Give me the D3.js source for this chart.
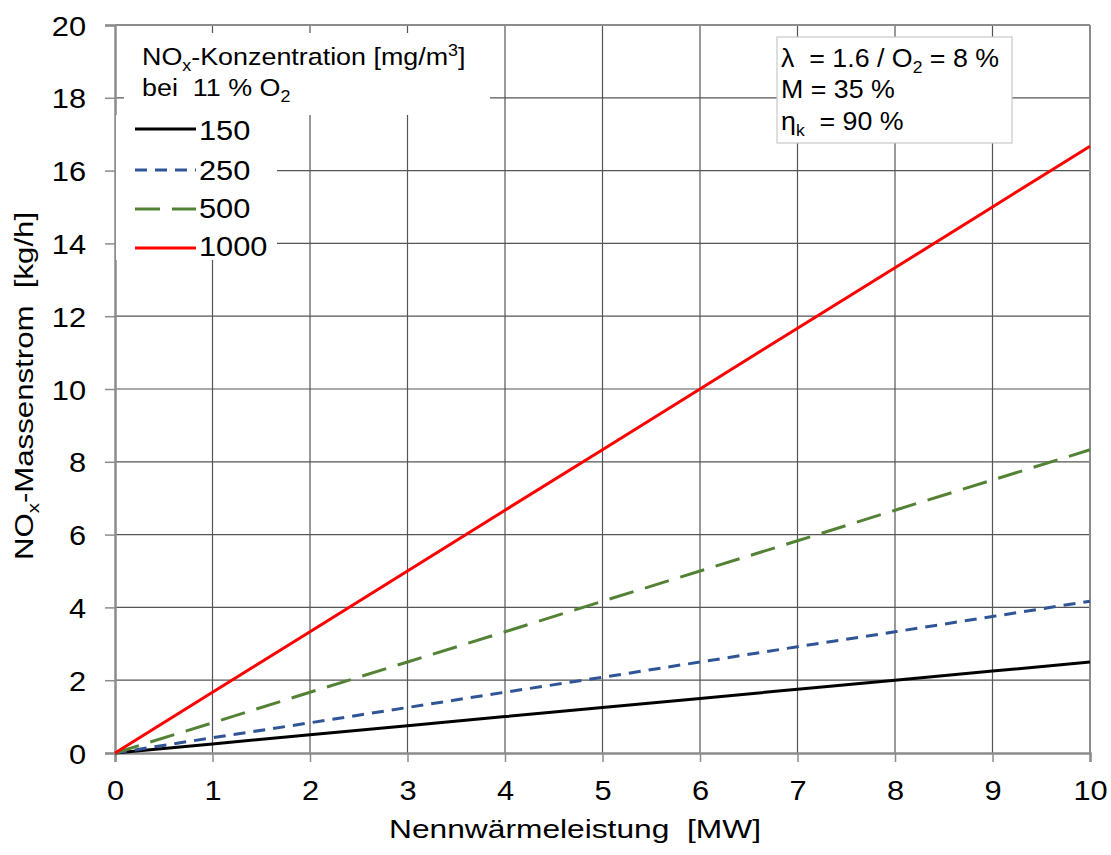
<!DOCTYPE html>
<html><head><meta charset="utf-8">
<script src="https://cdn.jsdelivr.net/npm/d3@7/dist/d3.min.js"></script>
<style>body{margin:0;background:#fff;} svg{display:block;font-family:Arial,"Liberation Sans",sans-serif;}</style>
</head><body>
<svg id="c" width="1111" height="855"></svg>
<script>
const xValues = [0,1,2,3,4,5,6,7,8,9,10];
const s150  = [0,0.25,0.5,0.75,1.0,1.25,1.5,1.75,2.0,2.25,2.5];
const s250  = [0,0.42,0.83,1.25,1.67,2.08,2.5,2.92,3.33,3.75,4.17];
const s500  = [0,0.83,1.67,2.5,3.33,4.17,5.0,5.83,6.67,7.5,8.33];
const s1000 = [0,1.67,3.33,5.0,6.67,8.33,10.0,11.67,13.33,15.0,16.67];
const seriesNames = ["150","250","500","1000"];
const xTicks = [0,1,2,3,4,5,6,7,8,9,10];
const yTicks = [0,2,4,6,8,10,12,14,16,18,20];

const series = [
  {name:seriesNames[0], vals:s150,  color:"#000000", dash:null},
  {name:seriesNames[1], vals:s250,  color:"#2f5597", dash:"12,8"},
  {name:seriesNames[2], vals:s500,  color:"#548235", dash:"25,12"},
  {name:seriesNames[3], vals:s1000, color:"#ff0000", dash:null}
];

const svg = d3.select("#c");
const L=115, R=1090, T=25, B=753;
const x = d3.scaleLinear().domain([0,10]).range([L,R]);
const y = d3.scaleLinear().domain([0,20]).range([B,T]);

function stext(px, py, size, sx, anchor){
  return svg.append("text")
    .attr("transform", `translate(${px},${py}) scale(${sx},1)`)
    .attr("font-size", size).attr("text-anchor", anchor||"start")
    .attr("fill","#000").attr("xml:space","preserve");
}

// grid
const g = svg.append("g");
g.selectAll(".vg").data(xTicks.slice(1,-1)).enter().append("line")
  .attr("x1",d=>x(d)).attr("x2",d=>x(d)).attr("y1",T).attr("y2",B)
  .attr("stroke","#555").attr("stroke-width",1.2);
g.selectAll(".hg").data(yTicks.slice(1,-1)).enter().append("line")
  .attr("y1",d=>y(d)).attr("y2",d=>y(d)).attr("x1",L).attr("x2",R)
  .attr("stroke","#555").attr("stroke-width",1.2);
svg.append("line").attr("x1",L).attr("x2",R).attr("y1",T).attr("y2",T).attr("stroke","#8c8c8c").attr("stroke-width",2);
svg.append("line").attr("x1",R).attr("x2",R).attr("y1",T).attr("y2",B).attr("stroke","#8c8c8c").attr("stroke-width",2);

// axes
const tsx = 1.1;
const xAxis = svg.append("g").attr("transform",`translate(0,${B})`)
  .call(d3.axisBottom(x).tickValues(xTicks).tickSize(9).tickPadding(18).tickFormat(d3.format("d")));
const yAxis = svg.append("g").attr("transform",`translate(${L},0)`)
  .call(d3.axisLeft(y).tickValues(yTicks).tickSize(10).tickPadding(19).tickFormat(d3.format("d")));
[xAxis,yAxis].forEach(a=>{
  a.select(".domain").attr("stroke","#8c8c8c").attr("stroke-width",2.5);
  a.selectAll(".tick line").attr("stroke","#8c8c8c").attr("stroke-width",1.5);
  a.selectAll(".tick text").attr("font-size",28).attr("fill","#000")
    .attr("font-family","Arial,'Liberation Sans',sans-serif")
    .attr("transform",`scale(${tsx},1)`);
});
xAxis.selectAll(".tick text").attr("dy","0.72em");
yAxis.selectAll(".tick text").attr("x",-29/tsx).attr("dy","0.36em");

// legend boxes
svg.append("rect").attr("x",124).attr("y",33).attr("width",366).attr("height",82).attr("fill","#fff");
svg.append("rect").attr("x",116).attr("y",115).attr("width",161).attr("height",145).attr("fill","#fff");
// annotation box
svg.append("rect").attr("x",777).attr("y",37).attr("width",235).attr("height",106)
  .attr("fill","#fff").attr("stroke","#c8c8c8").attr("stroke-width",1.2);

// lines
const line = d3.line().x((d,i)=>x(xValues[i])).y(d=>y(d));
series.forEach(s=>{
  svg.append("path").datum(s.vals).attr("d",line).attr("fill","none")
    .attr("stroke",s.color).attr("stroke-width",3)
    .attr("stroke-dasharray",s.dash);
});

// legend title
const lt = stext(142,65,24,1.12);
lt.append("tspan").text("NO");
lt.append("tspan").text("x").attr("font-size",16).attr("dy",6);
lt.append("tspan").text("-Konzentration [mg/m").attr("dy",-6);
lt.append("tspan").text("3").attr("font-size",16).attr("dy",-9);
lt.append("tspan").text("]").attr("dy",9);
const lt2 = stext(142,96,24,1.12);
lt2.append("tspan").text("bei  11 % O");
lt2.append("tspan").text("2").attr("font-size",16).attr("dy",6);

const legY = [129,170,209,248];
const legBase = [140,180,218,256];
series.forEach((s,i)=>{
  svg.append("line").attr("x1",135).attr("x2",196).attr("y1",legY[i]).attr("y2",legY[i])
    .attr("stroke",s.color).attr("stroke-width",3).attr("stroke-dasharray",s.dash);
  stext(199,legBase[i],28,1.1).text(s.name);
});

// annotation text
const a1 = stext(781,67,26,1.03);
a1.append("tspan").text("λ  = 1.6 / O");
a1.append("tspan").text("2").attr("font-size",17).attr("dy",6);
a1.append("tspan").text(" = 8 %").attr("dy",-6);
stext(781,98,26,1.03).text("M = 35 %");
const a3 = stext(781,130,26,1.03);
a3.append("tspan").text("η");
a3.append("tspan").text("k").attr("font-size",17).attr("dy",6);
a3.append("tspan").text("  = 90 %").attr("dy",-6);

// axis titles
stext(575,838,26,1.22,"middle").text("Nennwärmeleistung  [MW]");
const yt = svg.append("text").attr("transform","translate(33,386) rotate(-90) scale(1.2,1)")
  .attr("text-anchor","middle").attr("font-size",26).attr("xml:space","preserve");
yt.append("tspan").text("NO");
yt.append("tspan").text("x").attr("font-size",17).attr("dy",6);
yt.append("tspan").text("-Massenstrom  [kg/h]").attr("dy",-6);
</script>
</body></html>
